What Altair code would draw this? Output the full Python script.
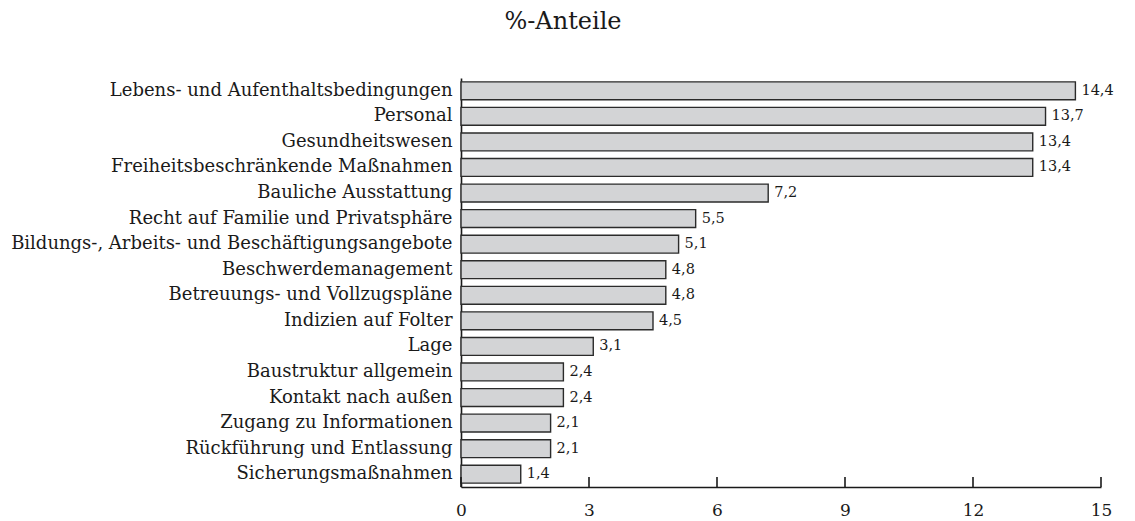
import altair as alt
import pandas as pd

categories = [
    "Lebens- und Aufenthaltsbedingungen",
    "Personal",
    "Gesundheitswesen",
    "Freiheitsbeschränkende Maßnahmen",
    "Bauliche Ausstattung",
    "Recht auf Familie und Privatsphäre",
    "Bildungs-, Arbeits- und Beschäftigungsangebote",
    "Beschwerdemanagement",
    "Betreuungs- und Vollzugspläne",
    "Indizien auf Folter",
    "Lage",
    "Baustruktur allgemein",
    "Kontakt nach außen",
    "Zugang zu Informationen",
    "Rückführung und Entlassung",
    "Sicherungsmaßnahmen",
]
values = [14.4, 13.7, 13.4, 13.4, 7.2, 5.5, 5.1, 4.8, 4.8, 4.5, 3.1, 2.4, 2.4, 2.1, 2.1, 1.4]
tick_values = [0, 3, 6, 9, 12, 15]

FONT = "DejaVu Serif"
W, H = 640, 409

df = pd.DataFrame({
    "cat": categories,
    "val": values,
    "lab": [f"{v:.1f}".replace(".", ",") for v in values],
})
ticks_df = pd.DataFrame({"t": tick_values})

x_scale = alt.Scale(domain=[0, 15], nice=False, zero=True)
y_sort = categories

bars = alt.Chart(df).mark_bar(
    fill="#d3d4d6", stroke="#2b2b2b", strokeWidth=1.4
).encode(
    x=alt.X("val:Q", scale=x_scale, axis=alt.Axis(
        values=tick_values, ticks=False, grid=False, title=None,
        domainColor="#1a1a1a", domainWidth=1.6, labelFlush=False,
        labelFont=FONT, labelFontSize=17, labelColor="#1a1a1a", labelPadding=15,
    )),
    y=alt.Y("cat:N", sort=y_sort, scale=alt.Scale(paddingInner=0.3, paddingOuter=0.15),
            axis=alt.Axis(
                ticks=False, grid=False, title=None,
                domainColor="#1a1a1a", domainWidth=1.6,
                labelFont=FONT, labelFontSize=18, labelColor="#1a1a1a", labelPadding=9,
                labelLimit=600,
            )),
)

texts = alt.Chart(df).mark_text(
    align="left", baseline="middle", dx=6, font=FONT, fontSize=14.5, color="#1a1a1a"
).encode(
    x=alt.X("val:Q", scale=x_scale),
    y=alt.Y("cat:N", sort=y_sort),
    text="lab:N",
)

tick_rules = alt.Chart(ticks_df).mark_rule(color="#1a1a1a", strokeWidth=1.6).encode(
    x=alt.X("t:Q", scale=x_scale),
    y=alt.value(H - 10),
    y2=alt.value(H),
)

chart = alt.layer(bars, texts, tick_rules).properties(
    width=W,
    height=H,
    title=alt.TitleParams(
        "%-Anteile", font=FONT, fontSize=24, fontWeight="normal", color="#1a1a1a",
        anchor="middle", dx=-218, offset=44,
    ),
    autosize=alt.AutoSizeParams(type="none"),
    padding={"left": 453, "top": 70, "right": 26, "bottom": 34},
).configure_view(stroke=None)

chart.save("out.html", embed_options={"renderer": "svg", "actions": False})
